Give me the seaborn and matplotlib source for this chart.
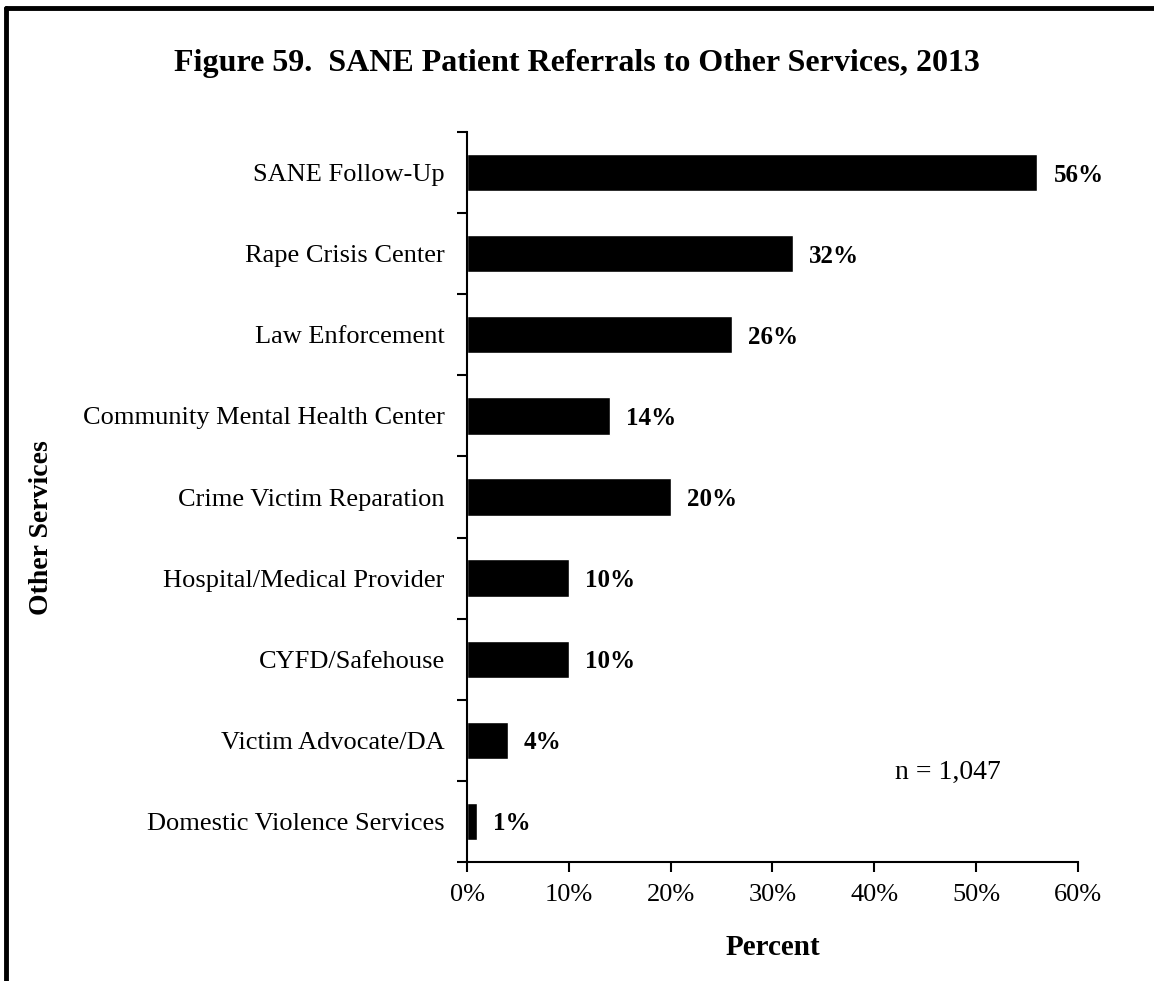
import pandas as pd
import matplotlib.pyplot as plt
import matplotlib.lines as mlines
import seaborn as sns

servicos = ['SANE Follow-Up', 'Rape Crisis Center', 'Law Enforcement',
            'Community Mental Health Center', 'Crime Victim Reparation',
            'Hospital/Medical Provider', 'CYFD/Safehouse', 'Victim Advocate/DA',
            'Domestic Violence Services']
percentuais = [56, 32, 26, 14, 20, 10, 10, 4, 1]
rotulos = ['56%', '32%', '26%', '14%', '20%', '10%', '10%', '4%', '1%']
xticks = [0, 10, 20, 30, 40, 50, 60]

df = pd.DataFrame({'servico': servicos, 'pct': percentuais})

sns.set_style('white')
plt.rcParams['font.family'] = ['Liberation Serif', 'DejaVu Serif']
plt.rcParams['text.color'] = 'black'
plt.rcParams['xtick.color'] = 'black'
plt.rcParams['ytick.color'] = 'black'
plt.rcParams['axes.labelcolor'] = 'black'

fig = plt.figure(figsize=(11.54, 9.81), dpi=100)
ax = fig.add_axes([0.4047, 0.1213, 0.5294, 0.7441])

sns.barplot(x='pct', y='servico', data=df, color='black', width=0.46,
            orient='h', ax=ax, saturation=1)

for i, (v, r) in enumerate(zip(percentuais, rotulos)):
    ax.text(v + 1.6, i + 0.03, r, va='center', ha='left', fontsize=18, fontweight='bold')

ax.set_xlim(0, 60)
ax.set_ylim(8.5, -0.5)
ax.set_xticks(xticks)
ax.set_xticklabels([f'{t}%' for t in xticks], fontsize=19)
ax.tick_params(axis='x', direction='out', length=7, width=1.5, pad=9, bottom=True)
ax.tick_params(axis='y', which='major', length=0, labelsize=19, pad=16)
ax.set_yticks([i - 0.5 for i in range(len(servicos) + 1)], minor=True)
ax.tick_params(axis='y', which='minor', direction='out', length=7, width=1.5, left=True)

for s in ['top', 'right']:
    ax.spines[s].set_visible(False)
for s in ['left', 'bottom']:
    ax.spines[s].set_linewidth(1.5)
    ax.spines[s].set_color('black')

ax.set_xlabel('Percent', fontsize=21, fontweight='bold', labelpad=20)
ax.set_ylabel('')
fig.text(0.036, 0.462, 'Other Services', rotation=90, fontsize=20, fontweight='bold',
         va='center', ha='center')
ax.text(0.787, 0.123, 'n = 1,047', transform=ax.transAxes, fontsize=20,
        ha='center', va='center')

fig.suptitle('Figure 59.  SANE Patient Referrals to Other Services, 2013',
             x=0.5, y=0.95, fontsize=23, fontweight='bold')

# moldura
fig.add_artist(mlines.Line2D([0.005, 1.0], [0.992, 0.992], color='black', lw=3.5))
fig.add_artist(mlines.Line2D([0.0055, 0.0055], [0.0, 0.992], color='black', lw=3.5))

fig.savefig('out.png', dpi=100)
